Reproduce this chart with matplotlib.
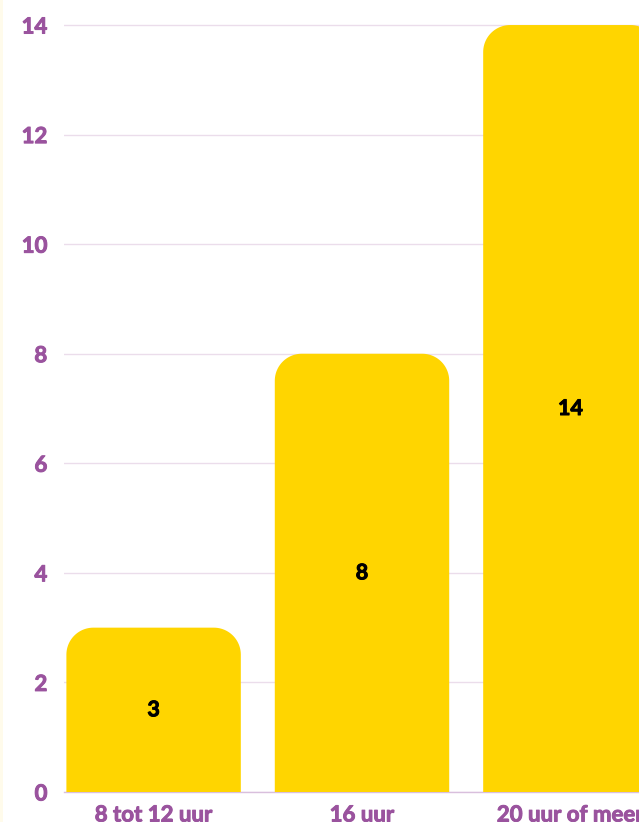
import matplotlib
matplotlib.use("Agg")
import numpy as np
import matplotlib.pyplot as plt
import matplotlib.patheffects as pe
from matplotlib.patches import PathPatch, Rectangle
from matplotlib.path import Path

categories = ["8 tot 12 uur", "16 uur", "20 uur of meer"]
values = [3, 8, 14]
yticks = [0, 2, 4, 6, 8, 10, 12, 14]

PURPLE = "#9A539E"
YELLOW = "#FFD500"
GRID = "#EBDDEB"

W, H = 639, 822
fig = plt.figure(figsize=(W / 100, H / 100), dpi=100)
fig.patch.set_facecolor("white")
fig.patches.append(Rectangle((0, 0), 3 / W, 1, transform=fig.transFigure,
                             facecolor="#FFFBEB", edgecolor="none", zorder=0))

left_px, right_px = 64, 660
bottom_px, top_px = 30, 822 - 8.6
ax = fig.add_axes([left_px / W, bottom_px / H, (right_px - left_px) / W, (top_px - bottom_px) / H])
ax.set_facecolor("none")

x0, x1 = -0.43, 2.43
y0, y1 = 0, 14.3
ax.set_xlim(x0, x1)
ax.set_ylim(y0, y1)

px_per_x = (right_px - left_px) / (x1 - x0)
px_per_y = (top_px - bottom_px) / (y1 - y0)
radius_px = 27
rx = radius_px / px_per_x
ry = radius_px / px_per_y


def rounded_top(x, w, h):
    t = np.linspace(0, np.pi / 2, 24)
    cl = [(x + rx - rx * np.cos(a), h - ry + ry * np.sin(a)) for a in t]
    cr = [(x + w - rx + rx * np.cos(a), h - ry + ry * np.sin(a)) for a in t[::-1]]
    pts = [(x, 0)] + cl + cr + [(x + w, 0), (x, 0)]
    codes = [Path.MOVETO] + [Path.LINETO] * (len(pts) - 2) + [Path.CLOSEPOLY]
    return Path(pts, codes)


bw = 0.837
bars = ax.bar(range(len(categories)), values, width=bw, color=YELLOW)
FONT = "Lato"
WEIGHT = "bold"
for rect, v in zip(bars, values):
    x = rect.get_x()
    w = rect.get_width()
    rect.remove()
    p = PathPatch(rounded_top(x, w, v), facecolor=YELLOW, edgecolor="none", zorder=3)
    ax.add_patch(p)
    ax.text(x + w / 2, v / 2, str(v), ha="center", va="center",
            fontsize=15.5, fontweight=WEIGHT, family=FONT, color="black", zorder=4,
            path_effects=[pe.withStroke(linewidth=0.7, foreground="black")])

ax.set_yticks(yticks)
ax.set_yticklabels([str(t) for t in yticks])
ax.set_xticks(range(len(categories)))
ax.set_xticklabels(categories)
for lab in ax.get_yticklabels() + ax.get_xticklabels():
    lab.set_family(FONT)
    lab.set_fontweight(WEIGHT)
    lab.set_color(PURPLE)
    lab.set_fontsize(16)
    lab.set_path_effects([pe.withStroke(linewidth=0.7, foreground=PURPLE)])
ax.tick_params(axis="y", length=0, pad=12)
ax.tick_params(axis="x", length=0, pad=9)
ax.grid(axis="y", color=GRID, linewidth=1, zorder=0)
ax.set_axisbelow(True)
for s in ["top", "right", "left"]:
    ax.spines[s].set_visible(False)
ax.spines["bottom"].set_color("#D9BFDD")
ax.spines["bottom"].set_linewidth(1)
ax.spines["bottom"].set_zorder(1)

fig.savefig("out.png", dpi=100)
